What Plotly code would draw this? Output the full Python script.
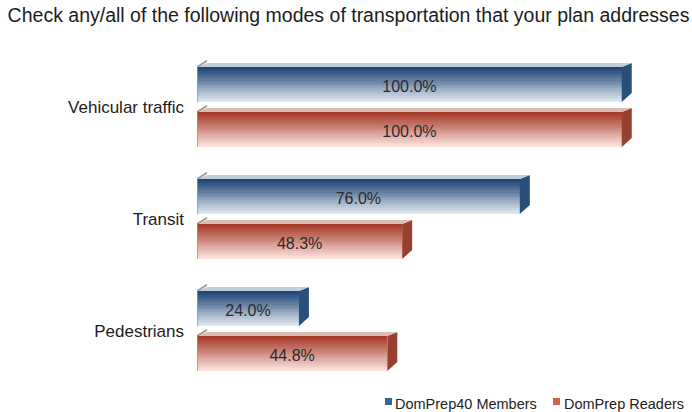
import plotly.graph_objects as go

# ---- data ----
categories = ["Vehicular traffic", "Transit", "Pedestrians"]
members = [100.0, 76.0, 24.0]      # DomPrep40 Members
readers = [100.0, 48.3, 44.8]      # DomPrep Readers
series_names = ["DomPrep40 Members", "DomPrep Readers"]

# ---- geometry / style ----
W, H = 692, 412
M_L, M_R, M_T, M_B = 197, 49, 51, 25
PLOT_W = W - M_L - M_R
X_MAX = 105.0
PX_X = PLOT_W / X_MAX                   # pixels per x unit
PX_Y = (H - M_T - M_B) / 3.0            # pixels per category
BAR_H = 35 / PX_Y                       # front-face height (data units)
GAP = 10 / PX_Y                         # gap between the two bars of a group
DEPTH_X = 10 / PX_X                     # 3D depth, horizontal
DEPTH_TOP = 4 / PX_Y                    # 3D depth, vertical at top edge
DEPTH_BOT = 9 / PX_Y                    # 3D depth, vertical at bottom edge
LABEL_SHIFT = 3.5 / PX_Y                # value labels sit a little below centre
N_SLICES = 18
FONT = "Liberation Sans, Arial, sans-serif"

styles = [
    dict(top=(30, 70, 116), bottom=(222, 230, 240), side="#274f7a",
         lid="#c3cedb", lid_edge="#8e9cad", legend="#3a6696"),
    dict(top=(168, 58, 40), bottom=(249, 226, 221), side="#96402f",
         lid="#dcbdb6", lid_edge="#a98e88", legend="#d4604a"),
]

pos = list(range(len(categories)))


def mix(c0, c1, t):
    return "rgb({},{},{})".format(*[round(a + (b - a) * t) for a, b in zip(c0, c1)])


fig = go.Figure()
shapes = []
annotations = []

for s, (vals, name, st) in enumerate(zip([members, readers], series_names, styles)):
    # offset of the front face top relative to the category centre
    top_off = -GAP / 2 - BAR_H if s == 0 else GAP / 2
    slice_h = BAR_H / N_SLICES
    for i in range(N_SLICES):
        t = i / (N_SLICES - 1)
        fig.add_trace(go.Bar(
            orientation="h", x=vals, y=pos, base=0,
            width=slice_h * 1.15, offset=top_off + i * slice_h,
            marker=dict(color=mix(st["top"], st["bottom"], t), line=dict(width=0)),
            hoverinfo="skip", showlegend=False,
        ))
    # 3D side and lid faces
    for c, v in zip(pos, vals):
        y_top = c + top_off
        y_bot = y_top + BAR_H
        side = (f"M {v},{y_top} L {v + DEPTH_X},{y_top - DEPTH_TOP} "
                f"L {v + DEPTH_X},{y_bot - DEPTH_BOT} L {v},{y_bot} Z")
        shapes.append(dict(type="path", path=side, xref="x", yref="y",
                           fillcolor=st["side"], line=dict(width=0), layer="above"))
        lid = (f"M 0,{y_top} L {v},{y_top} L {v + DEPTH_X},{y_top - DEPTH_TOP} "
               f"L {DEPTH_X},{y_top - DEPTH_TOP} Z")
        shapes.append(dict(type="path", path=lid, xref="x", yref="y",
                           fillcolor=st["lid"], line=dict(width=0), layer="above"))
        edge = f"M 0,{y_bot} L 0,{y_top} L {DEPTH_X},{y_top - DEPTH_TOP - 0.02}"
        shapes.append(dict(type="path", path=edge, xref="x", yref="y",
                           line=dict(width=1.5, color=st["lid_edge"]), layer="above"))
    # value labels
    fig.add_trace(go.Scatter(
        x=[v / 2 for v in vals],
        y=[c + top_off + BAR_H / 2 + LABEL_SHIFT for c in pos],
        mode="text", text=[f"{v:.1f}%" for v in vals],
        textfont=dict(family=FONT, size=16, color="#2b2b2b"),
        hoverinfo="skip", showlegend=False,
    ))

# compact legend below the plot, bottom right
legend_items = [(385, 393), (553, 562)]
for (sq_x, txt_x), name, st in zip(legend_items, series_names, styles):
    x0 = (sq_x - M_L) / PLOT_W
    x1 = (sq_x + 7 - M_L) / PLOT_W
    shapes.append(dict(type="rect", xref="paper", yref="paper",
                       x0=x0, x1=x1,
                       y0=-(398 - (H - M_B)) / (H - M_T - M_B) * 0 + (H - M_B - 405) / (H - M_T - M_B),
                       y1=(H - M_B - 398) / (H - M_T - M_B),
                       fillcolor=st["legend"], line=dict(width=0)))
    annotations.append(dict(
        text=name, xref="paper", yref="paper",
        x=(txt_x - M_L) / PLOT_W, xanchor="left",
        y=(H - M_B - 404) / (H - M_T - M_B), yanchor="middle",
        showarrow=False, font=dict(family=FONT, size=14.5, color="#222"),
    ))

fig.update_layout(
    width=W, height=H,
    margin=dict(l=M_L, r=M_R, t=M_T, b=M_B),
    paper_bgcolor="white", plot_bgcolor="white",
    barmode="overlay", bargap=0,
    shapes=shapes, annotations=annotations,
    showlegend=False,
    title=dict(
        text="Check any/all of the following modes of transportation that your plan addresses",
        x=0.011, xanchor="left", y=1 - 15 / H, yanchor="middle",
        font=dict(family=FONT, size=19.5, color="#1c1c1c"),
    ),
    xaxis=dict(range=[0, X_MAX], visible=False, fixedrange=True),
    yaxis=dict(
        range=[2.5, -0.5], tickvals=pos, ticktext=categories,
        showgrid=False, zeroline=False, showline=False, ticks="",
        ticklabelstandoff=12,
        tickfont=dict(family=FONT, size=17, color="#1c1c1c"),
    ),
)

fig.write_html("out.html")
